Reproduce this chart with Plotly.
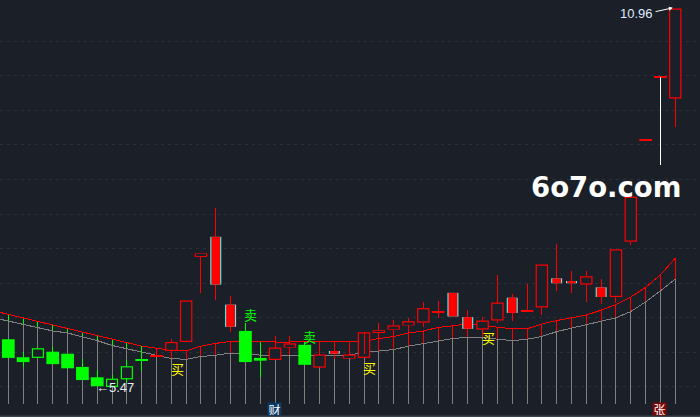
import plotly.graph_objects as go

BG = "#1b1f28"
RED = "#ff0000"
GREEN = "#00ff00"
GRAY = "#808080"
CYAN = "#55ffff"

red_curve = [6.55,6.50,6.45,6.40,6.35,6.30,6.25,6.19,6.15,6.09,6.06,6.03,6.02,6.09,6.13,6.16,6.16,
             6.15,6.15,6.15,6.15,6.15,6.15,6.15,6.16,6.20,6.23,6.28,6.31,6.36,6.39,6.41,6.39,6.36,
             6.34,6.34,6.41,6.46,6.50,6.54,6.61,6.69,6.80,6.94,7.12,7.36]
gray_curve = [6.45,6.41,6.36,6.31,6.28,6.23,6.17,6.10,6.05,6.00,5.95,5.91,5.90,5.94,5.96,5.99,5.99,
              5.96,5.95,5.95,5.95,5.95,5.95,5.96,6.00,6.02,6.04,6.09,6.13,6.17,6.20,6.22,6.22,6.19,
              6.17,6.19,6.23,6.30,6.35,6.39,6.44,6.50,6.59,6.73,6.89,7.06]
red_before = 6.60
gray_before = 6.50
stick_floor = 5.25
green_trend_days = 10

# index: (body top, body bottom, high, low)
solid_green = {0:(6.19,5.92,6.19,5.92),1:(5.93,5.86,6.01,5.79),3:(6.01,5.83,6.08,5.83),4:(5.98,5.77,5.98,5.77),
               5:(5.79,5.60,5.90,5.60),6:(5.64,5.51,5.75,5.51),16:(6.31,5.86,6.43,5.86),17:(5.92,5.88,6.15,5.64),
               20:(6.11,5.82,6.15,5.82)}
hollow_green = {2:(6.06,5.92,6.06,5.92),7:(5.62,5.50,5.67,5.50),8:(5.80,5.61,5.89,5.56)}
solid_red = {14:(7.67,6.98,8.09,6.76),15:(6.69,6.37,6.82,6.30),22:(6.02,5.98,6.06,5.90),30:(6.86,6.52,6.86,6.52),
             31:(6.51,6.34,6.61,6.31),34:(6.79,6.57,6.84,6.46),37:(7.07,7.00,7.57,6.88),38:(7.03,7.00,7.18,6.86),
             40:(6.94,6.80,7.06,6.70)}
plain_red = {35:(6.61,6.59,6.99,6.59)}
hollow_red = {11:(6.15,6.02,6.19,6.02),12:(6.75,6.15,6.75,6.15),13:(7.43,7.38,7.43,6.86),18:(6.07,5.89,6.24,5.89),
              19:(6.13,6.07,6.24,6.07),21:(5.97,5.78,6.01,5.78),23:(5.97,5.91,6.03,5.91),24:(6.29,5.92,6.30,5.92),
              25:(6.32,6.28,6.42,6.19),26:(6.39,6.33,6.47,6.23),27:(6.45,6.39,6.50,6.28),28:(6.64,6.43,6.73,6.37),
              32:(6.46,6.33,6.51,6.33),33:(6.72,6.46,7.12,6.43),36:(7.27,6.65,7.27,6.54),39:(7.10,6.98,7.18,6.73),
              41:(7.49,6.80,7.49,6.72),42:(8.25,7.60,8.25,7.55),45:(10.97,9.67,10.97,9.26)}
inner_wick = {24:(6.29,5.98)}
# index: (price, high, low)
doji_green = {9:(5.89,6.09,5.73)}
doji_red = {10:(5.95,5.95,5.95),29:(6.58,6.74,6.50),43:(9.07,9.07,9.07)}
doji_limit = {44:(9.98,9.98,8.71)}
grid_prices = [5.5,6.0,6.5,7.0,7.5,8.0,8.5,9.0,9.5,10.0,10.5]

fig = go.Figure()


def segs(pairs):
    xs, ys = [], []
    for x, a, b in pairs:
        xs += [x, x, None]
        ys += [a, b, None]
    return xs, ys


def line(pairs, color, axes=("x", "y"), width=1):
    xs, ys = segs(pairs)
    fig.add_trace(go.Scatter(x=xs, y=ys, mode="lines", line=dict(color=color, width=width),
                             xaxis=axes[0], yaxis=axes[1], hoverinfo="skip", showlegend=False))


days = list(range(len(red_curve)))
line([(i, stick_floor, gray_curve[i]) for i in days], GRAY)
line([(i, gray_curve[i], red_curve[i]) for i in days if i < green_trend_days], GREEN)
line([(i, gray_curve[i], red_curve[i]) for i in days if i >= green_trend_days], RED)
fig.add_trace(go.Scatter(x=[-1] + days, y=[gray_before] + gray_curve, mode="lines", line=dict(color=GRAY, width=1), hoverinfo="skip", showlegend=False))
fig.add_trace(go.Scatter(x=[-1] + days, y=[red_before] + red_curve, mode="lines", line=dict(color=RED, width=1), hoverinfo="skip", showlegend=False))

UP = ("x2", "y2")
PX = 0.01445  # price per screen pixel of the axis below


def bodies(group, fill, width=0.84, inset=0.0):
    fig.add_trace(go.Bar(x=list(group), y=[v[0] - v[1] - 2 * inset for v in group.values()],
                         base=[v[1] + inset for v in group.values()], width=width,
                         marker=dict(color=fill, line=dict(width=0)),
                         xaxis="x2", yaxis="y2", hoverinfo="skip", showlegend=False))


def wicks(group, color):
    pairs = []
    for i, v in group.items():
        top, bot, hi, lo = v
        if hi > top:
            pairs.append((i, top, hi))
        if lo < bot:
            pairs.append((i, bot, lo))
    if pairs:
        line(pairs, color, UP)


for grp, col in ((solid_green, GREEN), (hollow_green, GREEN), (solid_red, RED), (plain_red, RED), (hollow_red, RED)):
    wicks(grp, col)
line([(i, a, b) for i, (a, b) in inner_wick.items()], RED, UP)

bodies(solid_green, GREEN, 0.86)
bodies(hollow_green, GREEN, 0.82)
bodies(hollow_green, BG, 0.66, PX * 1.2)
bodies(solid_red, CYAN, 0.74)
bodies(solid_red, RED, 0.60)
bodies(plain_red, RED, 0.84)
bodies(hollow_red, RED, 0.84)
bodies(hollow_red, BG, 0.68, PX * 1.2)


def doji(group, color, stem=None):
    for i, (p, hi, lo) in group.items():
        if hi > lo:
            line([(i, lo, hi)], stem or color, UP)
    bar = {i: (v[0] + 0.01, v[0] - 0.01) for i, v in group.items()}
    bodies(bar, color, 0.86)


doji(doji_green, GREEN)
doji(doji_red, RED)
doji(doji_limit, RED, "#ffffff")

CJK = "Noto Sans CJK SC"
notes = [dict(x=11.4, y=5.77, text="买", font=dict(family=CJK, size=13, color="#ffff00")),
         dict(x=24.4, y=5.78, text="买", font=dict(family=CJK, size=13, color="#ffff00")),
         dict(x=32.4, y=6.21, text="买", font=dict(family=CJK, size=13, color="#ffff00")),
         dict(x=16.35, y=6.55, text="卖", font=dict(family=CJK, size=13, color=GREEN)),
         dict(x=20.35, y=6.23, text="卖", font=dict(family=CJK, size=13, color=GREEN)),
         dict(x=17.95, y=5.18, text="财", bgcolor="#0b3a66", width=13, height=12, font=dict(family=CJK, size=12, color="#ffffff"), borderpad=0),
         dict(x=43.93, y=5.18, text="张", bgcolor="#7a0a0a", width=13, height=12, font=dict(family=CJK, size=12, color="#ffffff"), borderpad=0),
         dict(x=7.2, y=5.49, text="←5.47", font=dict(family="Liberation Sans", size=13, color="#e8eef8")),
         dict(x=42.39, y=10.90, text="10.96", font=dict(family="Liberation Sans", size=13, color="#dfeaff")),
         dict(x=44.84, y=10.98, ax=43.57, ay=10.92, axref="x", ayref="y", text="", showarrow=True, arrowcolor="#ffffff",
              arrowhead=2, arrowsize=0.8, arrowwidth=1),
         dict(x=40.33, y=8.39, text="<b>6o7o.com</b>", font=dict(family="DejaVu Sans", size=27.5, color="#ffffff"))]
for n in notes:
    n.setdefault("showarrow", False)
    n.update(xref="x2", yref="y2")
    if "axref" in n:
        n.update(axref="x2", ayref="y2")
    fig.add_annotation(**n)

xr = [-0.56, 46.67]
yr = [5.066, 11.093]
fig.add_shape(type="rect", xref="paper", yref="paper", x0=0, x1=1, y0=0, y1=0.0036,
              line=dict(width=0), fillcolor="#3a4250", layer="above")
fig.update_layout(
    width=700, height=417, margin=dict(l=0, r=0, t=0, b=0), paper_bgcolor=BG, plot_bgcolor=BG,
    barmode="overlay", showlegend=False,
    xaxis=dict(range=xr, visible=False, showgrid=False, zeroline=False),
    yaxis=dict(range=yr, tickmode="array", tickvals=grid_prices, showticklabels=False, ticks="", showline=False,
               zeroline=False, showgrid=True, gridcolor="#2b2f38", griddash="3px,4px", gridwidth=1),
    xaxis2=dict(range=xr, overlaying="x", visible=False, showgrid=False, zeroline=False),
    yaxis2=dict(range=yr, overlaying="y", visible=False, showgrid=False, zeroline=False),
)
fig.write_html(
    "out.html",
    config={"displayModeBar": False},
    post_script=(
        "document.body.style.margin='0';document.body.style.overflow='hidden';"
        "document.body.style.background='#1b1f28';"
        "var s=document.createElement('style');"
        "s.textContent='.scatterlayer .js-line{shape-rendering:crispEdges !important}';"
        "document.head.appendChild(s);"
    ),
)
